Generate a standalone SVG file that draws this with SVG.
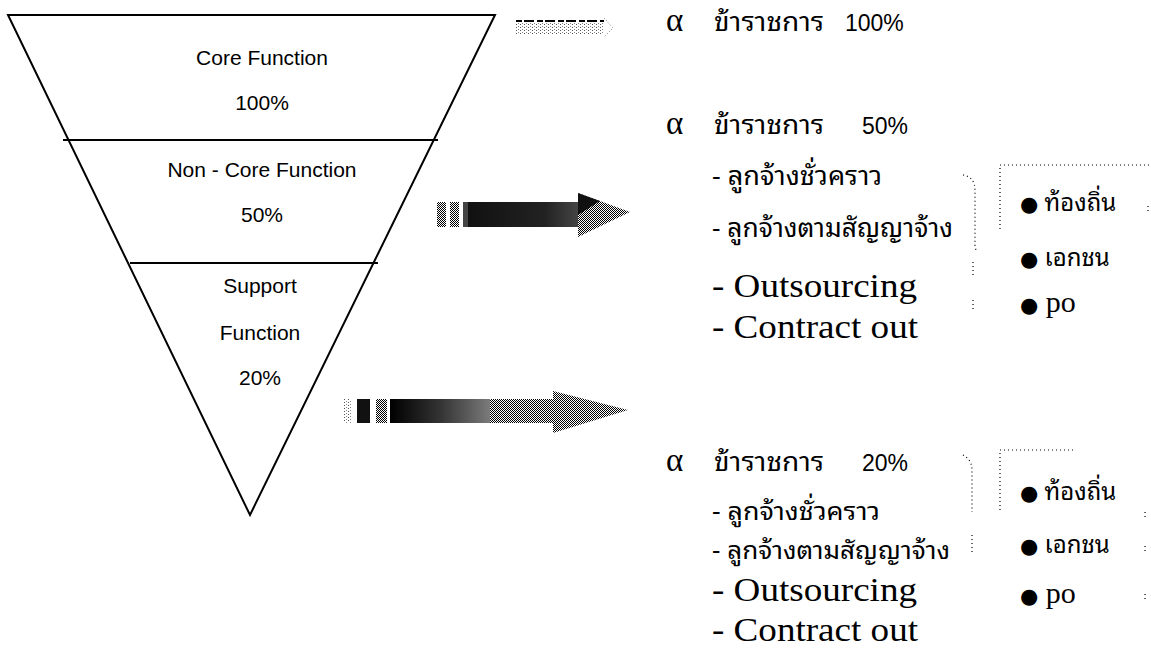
<svg xmlns="http://www.w3.org/2000/svg" width="1151" height="648" viewBox="0 0 1151 648">
<defs>
<pattern id="dith" width="2" height="2" patternUnits="userSpaceOnUse">
<rect width="2" height="2" fill="#fff"/>
<rect x="0" y="0" width="1" height="1" fill="#000"/>
<rect x="1" y="1" width="1" height="1" fill="#000"/>
</pattern>
<pattern id="sparse" width="4" height="3" patternUnits="userSpaceOnUse">
<rect x="0" y="0" width="1" height="1" fill="#555"/>
<rect x="2" y="2" width="1" height="1" fill="#888"/>
</pattern>
<linearGradient id="gradMid" x1="0" y1="0" x2="1" y2="0">
<stop offset="0" stop-color="#111"/>
<stop offset="0.7" stop-color="#222"/>
<stop offset="1" stop-color="#444"/>
</linearGradient>
<linearGradient id="gradBot" x1="0" y1="0" x2="1" y2="0">
<stop offset="0" stop-color="#000"/>
<stop offset="0.5" stop-color="#333"/>
<stop offset="1" stop-color="#7a7a7a"/>
</linearGradient>
</defs>
<style>
.fn{font-family:"Liberation Sans",Arial,sans-serif;font-size:21px;fill:#000;text-anchor:middle}
.alpha{font-family:"Liberation Serif","DejaVu Serif",serif;font-size:33px;fill:#000}
.th{font-family:"Noto Sans Thai Looped","Noto Sans Thai","Noto Serif Thai","Noto Sans",sans-serif;fill:#000}
.thb{font-size:26px}
.thm{font-size:25px}
.ths{font-size:24px}
.pct{font-family:"Liberation Sans",Arial,sans-serif;font-size:23px;fill:#000}
.en{font-family:"Liberation Serif","Times New Roman",serif;font-size:34px;fill:#000}
.po{font-family:"Liberation Serif","Times New Roman",serif;font-size:30px;fill:#000}
.bul{font-family:"DejaVu Sans",sans-serif;font-size:21px;fill:#000}
.dot{fill:none;stroke:#000;stroke-width:1.2;stroke-dasharray:1 3}
.edge{fill:none;stroke:#000;stroke-width:2}
</style>
<rect width="1151" height="648" fill="#fff"/>

<g id="funnel">
<polygon class="edge" points="8,15 495,15 250,515"/>
<line class="edge" x1="63" y1="140" x2="438" y2="140"/>
<line class="edge" x1="130" y1="263" x2="378" y2="263"/>
</g>
<g id="core">
<text class="fn" x="262" y="65">Core Function</text>
<text class="fn" x="262" y="110">100%</text>
</g>
<g id="noncore">
<text class="fn" x="262" y="177">Non - Core Function</text>
<text class="fn" x="262" y="222">50%</text>
</g>
<g id="support">
<text class="fn" x="260" y="293">Support</text>
<text class="fn" x="260" y="340">Function</text>
<text class="fn" x="260" y="385">20%</text>
</g>

<g id="connectors">
<g id="arrow-top">
<rect x="516" y="22" width="88" height="13" fill="url(#sparse)"/>
<line x1="516" y1="21" x2="604" y2="21" stroke="#000" stroke-width="2" stroke-dasharray="6 2 10 3"/>
<path d="M604,18 L613,28 L604,37" fill="none" stroke="#777" stroke-width="1" stroke-dasharray="1 2"/>
</g>
<g id="arrow-mid">
<rect x="437" y="202" width="9" height="25" fill="url(#dith)"/>
<rect x="450" y="202" width="9" height="25" fill="url(#dith)"/>
<rect x="463" y="202" width="5" height="25" fill="#444"/>
<rect x="468" y="202" width="110" height="25" fill="url(#gradMid)"/>
<polygon points="578,193 630,212 578,237" fill="url(#dith)"/>
<polygon points="578,193 600,201 578,215" fill="#111"/>
</g>
<g id="arrow-bot">
<rect x="344" y="399" width="7" height="24" fill="url(#sparse)"/>
<rect x="357" y="399" width="13" height="24" fill="#111"/>
<rect x="376" y="399" width="11" height="24" fill="url(#dith)"/>
<rect x="390" y="399" width="100" height="24" fill="url(#gradBot)"/>
<rect x="490" y="399" width="64" height="24" fill="url(#dith)"/>
<polygon points="553,391 628,410 553,433" fill="url(#dith)"/>
</g>
</g>

<g id="level-100">
<text class="alpha" x="666" y="31">α</text>
<text class="th thb" x="714" y="31" textLength="110" lengthAdjust="spacingAndGlyphs">ข้าราชการ</text>
<text class="pct" x="845" y="31">100%</text>
</g>

<g id="level-50">
<text class="alpha" x="666" y="134">α</text>
<text class="th thb" x="714" y="134" textLength="110" lengthAdjust="spacingAndGlyphs">ข้าราชการ</text>
<text class="pct" x="862" y="134">50%</text>
<text class="th thb" x="712" y="185" textLength="170" lengthAdjust="spacingAndGlyphs">- ลูกจ้างชั่วคราว</text>
<text class="th thb" x="712" y="237" textLength="241" lengthAdjust="spacingAndGlyphs">- ลูกจ้างตามสัญญาจ้าง</text>
<text class="en" x="712" y="297" textLength="205" lengthAdjust="spacingAndGlyphs">- Outsourcing</text>
<text class="en" x="712" y="338" textLength="206" lengthAdjust="spacingAndGlyphs">- Contract out</text>
</g>
<g id="bracket-50">
<path class="dot" d="M963,175 Q975,177 975,190 L975,245 Q975,250 978,252"/>
<path class="dot" d="M973,262 L973,275 M973,300 L973,312"/>
<path class="dot" d="M1000,165 L1151,165 M1000,168 L1000,232"/>
<path class="dot" d="M1148,206 L1148,214"/>
</g>
<g id="targets-50">
<text class="th ths" x="1020" y="211"><tspan class="bul">●</tspan> ท้องถิ่น</text>
<text class="th ths" x="1020" y="266"><tspan class="bul">●</tspan> เอกชน</text>
<text class="po" x="1020" y="312"><tspan class="bul">●</tspan> po</text>
</g>

<g id="level-20">
<text class="alpha" x="666" y="471">α</text>
<text class="th thb" x="714" y="471" textLength="110" lengthAdjust="spacingAndGlyphs">ข้าราชการ</text>
<text class="pct" x="862" y="471">20%</text>
<text class="th thm" x="712" y="520" textLength="168" lengthAdjust="spacingAndGlyphs">- ลูกจ้างชั่วคราว</text>
<text class="th thm" x="712" y="559" textLength="238" lengthAdjust="spacingAndGlyphs">- ลูกจ้างตามสัญญาจ้าง</text>
<text class="en" x="712" y="601" textLength="205" lengthAdjust="spacingAndGlyphs">- Outsourcing</text>
<text class="en" x="712" y="641" textLength="206" lengthAdjust="spacingAndGlyphs">- Contract out</text>
</g>
<g id="bracket-20">
<path class="dot" d="M963,455 Q972,460 972,470 L972,512"/>
<path class="dot" d="M972,535 L972,552"/>
<path class="dot" d="M1000,450 L1075,450 M1000,453 L1000,510"/>
<path class="dot" d="M1145,512 L1145,518 M1145,546 L1145,552 M1145,594 L1145,602"/>
</g>
<g id="targets-20">
<text class="th ths" x="1020" y="500"><tspan class="bul">●</tspan> ท้องถิ่น</text>
<text class="th ths" x="1020" y="553"><tspan class="bul">●</tspan> เอกชน</text>
<text class="po" x="1020" y="603"><tspan class="bul">●</tspan> po</text>
</g>
</svg>
